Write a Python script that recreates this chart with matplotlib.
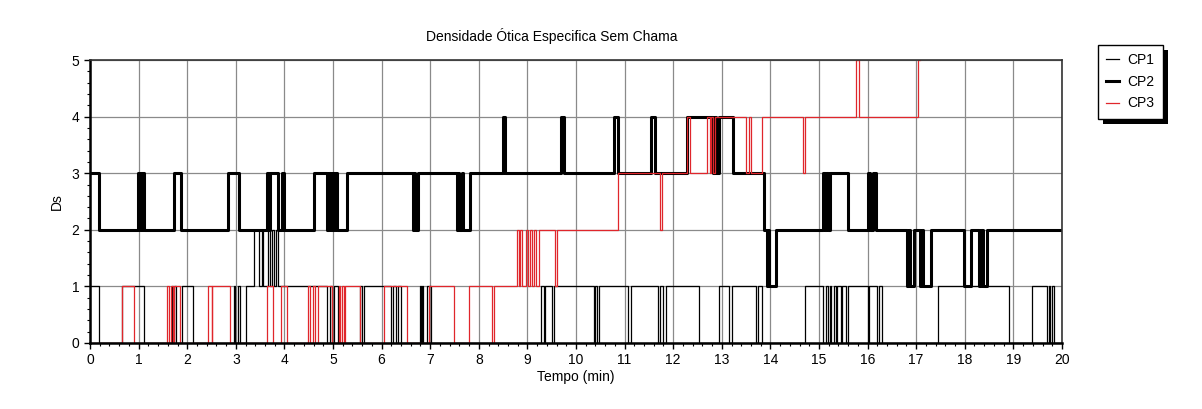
import matplotlib
matplotlib.use("Agg")
import matplotlib.pyplot as plt
from matplotlib.patches import Rectangle
from matplotlib.ticker import MultipleLocator

plt.rcParams['font.family'] = ['Liberation Sans', 'DejaVu Sans']

# change points: time (min) where the value switches, and the new value
cp1_t = [0.0, 0.18, 0.66, 1.12, 1.68, 1.71, 1.73, 1.77, 1.90, 2.12,
         2.96, 2.98, 3.04, 3.08, 3.20, 3.38, 3.48, 3.53, 3.55, 3.66, 3.70,
         3.74, 3.78, 3.82, 3.86, 4.88, 4.93, 4.97, 5.02, 5.10, 5.56, 5.60,
         5.64, 6.20, 6.23, 6.30, 6.33, 6.40, 6.80, 6.82, 6.84, 6.86, 6.94,
         7.02, 9.27, 9.34, 9.37, 9.50, 9.55, 10.37, 10.40, 10.44, 10.48,
         11.08, 11.13, 11.68, 11.72, 11.80, 11.85, 12.54, 12.94, 13.14,
         13.20, 13.70, 13.74, 13.83, 14.71, 15.08, 15.15, 15.18, 15.22,
         15.25, 15.30, 15.34, 15.38, 15.45, 15.48, 15.55, 15.60, 16.00,
         16.03, 16.20, 16.24, 16.30, 17.45, 18.92, 19.38, 19.69, 19.73,
         19.76, 19.80, 19.84, 19.88, 20.0]
cp1_v = [1, 0, 1, 0, 1, 0, 1, 0, 1, 0,
         1, 0, 1, 0, 1, 2, 1, 2, 1, 2, 1,
         2, 1, 2, 1, 0, 1, 0, 1, 0, 1, 0,
         1, 0, 1, 0, 1, 0, 1, 0, 1, 0, 1,
         0, 1, 0, 1, 0, 1, 0, 1, 0, 1,
         0, 1, 0, 1, 0, 1, 0, 1, 0,
         1, 0, 1, 0, 1, 0, 1, 0, 1,
         0, 1, 0, 1, 0, 1, 0, 1, 0,
         1, 0, 1, 0, 1, 0, 1, 0, 1,
         0, 1, 0, 0, 0]

cp2_t = [0.0, 0.18, 0.99, 1.02, 1.04, 1.07, 1.09, 1.12, 1.72, 1.88,
         2.83, 3.07, 3.64, 3.68, 3.70, 3.87, 3.96, 4.00, 4.60, 4.88,
         4.92, 4.95, 4.98, 5.02, 5.05, 5.08, 5.29, 6.64, 6.67, 6.69,
         6.74, 7.55, 7.58, 7.60, 7.66, 7.68, 7.82, 8.50, 8.54, 9.70,
         9.76, 10.78, 10.86, 11.55, 11.62, 12.28, 12.82, 12.86, 12.89,
         12.94, 13.23, 13.86, 13.93, 13.96, 13.98, 14.12, 15.08, 15.12,
         15.15, 15.18, 15.22, 15.60, 16.00, 16.04, 16.12, 16.17, 16.82,
         16.86, 16.88, 16.95, 17.08, 17.12, 17.15, 17.30, 17.98, 18.12,
         18.30, 18.34, 18.37, 18.46, 20.0]
cp2_v = [3, 2, 3, 2, 3, 2, 3, 2, 3, 2,
         3, 2, 3, 2, 3, 2, 3, 2, 3, 2,
         3, 2, 3, 2, 3, 2, 3, 2, 3, 2,
         3, 2, 3, 2, 3, 2, 3, 4, 3, 4,
         3, 4, 3, 4, 3, 4, 3, 4, 3,
         4, 3, 2, 1, 2, 1, 2, 3, 2,
         3, 2, 3, 2, 3, 2, 3, 2, 1,
         2, 1, 2, 1, 2, 1, 2, 1, 2,
         1, 2, 1, 2, 2]

cp3_t = [0.0, 0.66, 0.90, 1.58, 1.62, 1.66, 1.70, 1.72, 1.85, 2.43,
         2.50, 2.52, 2.88, 3.64, 3.76, 3.92, 4.05, 4.48, 4.52, 4.58,
         4.62, 4.70, 4.98, 5.12, 5.15, 5.18, 5.22, 5.25, 5.55, 6.05,
         6.52, 6.98, 7.48, 7.80, 8.28, 8.32, 8.78, 8.82, 8.85, 8.88,
         8.98, 9.02, 9.05, 9.10, 9.14, 9.18, 9.24, 9.56, 9.60, 10.86,
         11.73, 11.77, 12.28, 12.34, 12.70, 12.76, 12.78, 12.82, 12.86,
         13.50, 13.55, 13.60, 13.82, 14.68, 14.72, 15.76, 15.82, 17.03,
         17.08]
cp3_v = [0, 1, 0, 1, 0, 1, 0, 1, 0, 1,
         0, 1, 0, 1, 0, 1, 0, 1, 0, 1,
         0, 1, 0, 1, 0, 1, 0, 1, 0, 1,
         0, 1, 0, 1, 0, 1, 2, 1, 2, 1,
         2, 1, 2, 1, 2, 1, 2, 1, 2, 3,
         2, 3, 4, 3, 4, 3, 4, 3, 4,
         3, 4, 3, 4, 3, 4, 5, 4, 5,
         5]

fig = plt.figure(figsize=(12.02, 4.09), dpi=100)
ax = fig.add_axes([0.0749, 0.1614, 0.8086, 0.6919])

ax.grid(True, color="#8a8a8a", linewidth=0.9)
ax.set_axisbelow(True)

ax.plot(cp1_t, cp1_v, drawstyle="steps-post", color="black", linewidth=0.9, label="CP1")
ax.plot(cp2_t, cp2_v, drawstyle="steps-post", color="black", linewidth=2.2, label="CP2")
ax.plot(cp3_t, cp3_v, drawstyle="steps-post", color="#e0262b", linewidth=0.9, label="CP3")

ax.set_xlim(0, 20)
ax.set_ylim(0, 5)
ax.xaxis.set_major_locator(MultipleLocator(1))
ax.xaxis.set_minor_locator(MultipleLocator(0.2))
ax.yaxis.set_major_locator(MultipleLocator(1))
ax.yaxis.set_minor_locator(MultipleLocator(0.2))
ax.tick_params(which="major", length=4, width=1, labelsize=10, direction="out")
ax.tick_params(which="minor", length=2.5, width=0.8, direction="out")

for side in ["left", "bottom"]:
    ax.spines[side].set_linewidth(1.8)
for side in ["top", "right"]:
    ax.spines[side].set_linewidth(1.2)
    ax.spines[side].set_color("#333333")

ax.set_title("Densidade Ótica Especifica Sem Chama", fontsize=10, x=0.475, pad=14)
ax.set_xlabel("Tempo (min)", fontsize=10, labelpad=2)
ax.set_ylabel("Ds", fontsize=10, labelpad=6)

leg = ax.legend(loc="upper left", bbox_to_anchor=(1.030, 1.078), fontsize=10,
                frameon=True, fancybox=False, shadow=False,
                handlelength=0.9, handletextpad=0.6, borderpad=0.6, labelspacing=0.55)
leg.get_frame().set_edgecolor("black")
leg.get_frame().set_linewidth(1.0)
leg.get_frame().set_alpha(1)
leg.set_zorder(10)

# solid black drop shadow behind the legend box
fig.canvas.draw()
bb = leg.get_window_extent().transformed(fig.transFigure.inverted())
dx, dy = 5 / 1202, 5 / 409
shadow = Rectangle((bb.x0 + dx, bb.y0 - dy), bb.width, bb.height,
                   transform=fig.transFigure, facecolor="black",
                   edgecolor="none", zorder=9, clip_on=False)
ax.add_patch(shadow)

fig.savefig("out.png", dpi=100)
